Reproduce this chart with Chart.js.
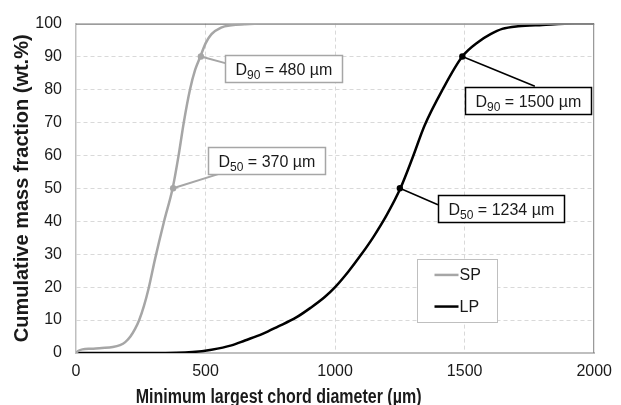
<!DOCTYPE html>
<html><head><meta charset="utf-8">
<script src="https://cdn.jsdelivr.net/npm/chart.js@4/dist/chart.umd.min.js"></script>
<style>html,body{margin:0;padding:0;background:#fff}canvas{display:block}</style>
</head><body>
<canvas id="c" width="621" height="405"></canvas>
<script>
// ---- data ----
const seriesNames = ['SP', 'LP'];
const spX = [0, 10, 25, 60, 100, 142, 170, 190, 210, 228, 244, 262, 280, 305, 340, 373, 396, 416, 440, 460, 480, 500, 523, 560, 600, 650, 714, 2000];
const spY = [0, 0.7, 1.1, 1.3, 1.5, 1.8, 2.4, 3.3, 5, 7.3, 10, 14.2, 19.5, 28.5, 40, 50, 60, 70, 80, 86, 90, 94, 96.8, 98.8, 99.5, 99.8, 100, 100];
const lpX = [0, 300, 450, 523, 600, 652, 720, 779, 850, 905, 960, 1000, 1050, 1100, 1150, 1200, 1252, 1300, 1345, 1415, 1491, 1554, 1600, 1645, 1706, 1800, 1924, 2000];
const lpY = [0, 0, 0.3, 1, 2.3, 3.8, 5.8, 8, 10.8, 13.7, 17, 20, 24.6, 29.8, 35.5, 42, 50, 59.5, 69, 80, 90, 94.5, 96.8, 98.4, 99.2, 99.6, 100, 100];
const xTicks = [0, 500, 1000, 1500, 2000];
const yTicks = [0, 10, 20, 30, 40, 50, 60, 70, 80, 90, 100];
// characteristic diameters: marker position on the curve and label text
const markerSeries = [0, 0, 1, 1];
const markerX = [375, 482, 1250, 1491];
const markerY = [50, 90, 50, 90];
const labelSub = ['50', '90', '50', '90'];
const labelValue = ['370', '480', '1234', '1500'];
const xTitle = 'Minimum largest chord diameter (\u00b5m)';
const yTitle = 'Cumulative mass fraction (wt.%)';

const FONT = '"Liberation Sans", Arial, sans-serif';
const TXT = '#1a1a1a';

// callout layout (data units): box left edge / box centre, connector end
const calloutLayout = [
  {boxX: 508, boxY: 58.5, endX: 561, endY: 54.6},
  {boxX: 576, boxY: 86.25, endX: 576, endY: 88},
  {boxX: 1397, boxY: 43.8, endX: 1397, endY: 45},
  {boxX: 1500, boxY: 76.8, endX: 1771, endY: 81}
];

const extrasPlugin = {
  id: 'extras',
  beforeDatasetsDraw(chart) {
    const {ctx, chartArea: a} = chart;
    ctx.save();
    ctx.lineWidth = 1;
    ctx.strokeStyle = '#595959';
    ctx.beginPath(); ctx.moveTo(a.left, a.top + 0.5); ctx.lineTo(a.right, a.top + 0.5); ctx.stroke();
    ctx.strokeStyle = '#808080';
    ctx.beginPath(); ctx.moveTo(a.right - 0.5, a.top); ctx.lineTo(a.right - 0.5, a.bottom); ctx.stroke();
    ctx.restore();
  },
  afterDatasetsDraw(chart, args, opts) {
    const {ctx, scales: {x, y}} = chart;
    ctx.save();
    markerX.forEach((mx, i) => {
      const ds = chart.data.datasets[markerSeries[i]];
      const color = ds.borderColor;
      const L = opts.layout[i];
      const px = x.getPixelForValue(mx), py = y.getPixelForValue(markerY[i]);
      const ex = x.getPixelForValue(L.endX), ey = y.getPixelForValue(L.endY);
      ctx.strokeStyle = color;
      ctx.lineWidth = markerSeries[i] === 0 ? 2 : 1.5;
      ctx.beginPath(); ctx.moveTo(px, py); ctx.lineTo(ex, ey); ctx.stroke();
      ctx.fillStyle = color;
      ctx.beginPath(); ctx.arc(px, py, 3.2, 0, Math.PI * 2); ctx.fill();
      const mainF = '16px ' + FONT, subF = '12px ' + FONT;
      const rest = ' = ' + labelValue[i] + ' \u00b5m';
      ctx.font = mainF; const wD = ctx.measureText('D').width; const wR = ctx.measureText(rest).width;
      ctx.font = subF; const wS = ctx.measureText(labelSub[i]).width;
      const pad = 10, h = 27;
      const w = Math.round(wD + wS + wR + 2 * pad);
      const bx = Math.round(x.getPixelForValue(L.boxX)) + 0.5;
      const by = Math.round(y.getPixelForValue(L.boxY) - h / 2) + 0.5;
      ctx.fillStyle = '#ffffff';
      ctx.fillRect(bx, by, w, h);
      ctx.lineWidth = 1.5;
      ctx.strokeStyle = markerSeries[i] === 0 ? '#a6a6a6' : '#000000';
      ctx.strokeRect(bx, by, w, h);
      const base = by + h / 2 + 6;
      ctx.fillStyle = TXT;
      ctx.textBaseline = 'alphabetic'; ctx.textAlign = 'left';
      ctx.font = mainF; ctx.fillText('D', bx + pad, base);
      ctx.font = subF; ctx.fillText(labelSub[i], bx + pad + wD, base + 4.3);
      ctx.font = mainF; ctx.fillText(rest, bx + pad + wD + wS, base);
    });
    // legend box inside plot
    const lg = opts.legend;
    const l = Math.round(x.getPixelForValue(lg.x0)) + 0.5, r = Math.round(x.getPixelForValue(lg.x1)) + 0.5;
    const t = Math.round(y.getPixelForValue(lg.y0)) + 0.5, b = Math.round(y.getPixelForValue(lg.y1)) + 0.5;
    ctx.fillStyle = '#ffffff'; ctx.fillRect(l, t, r - l, b - t);
    ctx.strokeStyle = '#bfbfbf'; ctx.lineWidth = 1; ctx.strokeRect(l, t, r - l, b - t);
    chart.data.datasets.forEach((ds, i) => {
      const ry = y.getPixelForValue(lg.rows[i]);
      ctx.strokeStyle = ds.borderColor; ctx.lineWidth = ds.borderWidth;
      ctx.beginPath(); ctx.moveTo(l + 17, ry); ctx.lineTo(l + 41, ry); ctx.stroke();
      ctx.fillStyle = TXT; ctx.font = '16px ' + FONT; ctx.textBaseline = 'middle'; ctx.textAlign = 'left';
      ctx.fillText(ds.label, l + 42, ry + 1);
    });
    // x-axis title (condensed bold, as in the reference)
    const xt = opts.xTitle;
    const cx = x.getPixelForValue(xt.center);
    ctx.save();
    ctx.translate(cx, chart.height - xt.baselineFromBottom);
    ctx.scale(xt.squeeze, 1);
    ctx.font = 'bold 20px ' + FONT; ctx.fillStyle = TXT; ctx.textAlign = 'center'; ctx.textBaseline = 'alphabetic';
    ctx.fillText(xTitle, 0, 0);
    ctx.restore();
    ctx.restore();
  }
};

const edgeTransparent = (vals) => (c) => (c.tick && (c.tick.value === vals[0] || c.tick.value === vals[vals.length - 1])) ? 'rgba(0,0,0,0)' : '#d9d9d9';

new Chart(document.getElementById('c').getContext('2d'), {
  type: 'line',
  data: {
    datasets: [
      {label: seriesNames[0], data: spX.map((v, i) => ({x: v, y: spY[i]})), borderColor: '#a6a6a6', borderWidth: 2.5, pointRadius: 0, cubicInterpolationMode: 'monotone', fill: false},
      {label: seriesNames[1], data: lpX.map((v, i) => ({x: v, y: lpY[i]})), borderColor: '#000000', borderWidth: 2.5, pointRadius: 0, cubicInterpolationMode: 'monotone', fill: false}
    ]
  },
  options: {
    responsive: false, animation: false, devicePixelRatio: 1,
    layout: {padding: {top: 20, right: 22, left: 0, bottom: 0}},
    plugins: {
      legend: {display: false}, tooltip: {enabled: false},
      extras: {
        layout: [calloutLayout[0], calloutLayout[1], calloutLayout[2], calloutLayout[3]],
        legend: {x0: 1317, x1: 1626, y0: 28.5, y1: 9.3, rows: [23.7, 14.1]},
        xTitle: {center: 782, baselineFromBottom: 2, squeeze: 0.8}
      }
    },
    scales: {
      x: {
        type: 'linear', min: 0, max: 2000,
        afterBuildTicks: s => { s.ticks = xTicks.map(v => ({value: v})); },
        afterFit: s => { s.height = 52; },
        grid: {color: edgeTransparent(xTicks), drawTicks: false, lineWidth: 1},
        border: {color: '#bfbfbf', width: 2, dash: [4, 3]},
        ticks: {padding: 9, color: TXT, font: {family: FONT, size: 16}, maxRotation: 0, callback: v => String(v)},
        title: {display: false}
      },
      y: {
        type: 'linear', min: 0, max: 100,
        afterBuildTicks: s => { s.ticks = yTicks.map(v => ({value: v})); },
        afterFit: s => { s.width = 76; },
        grid: {color: edgeTransparent(yTicks), drawTicks: false, lineWidth: 1},
        border: {color: '#bfbfbf', width: 1.5, dash: [4, 3]},
        ticks: {padding: 14, color: TXT, font: {family: FONT, size: 16}, callback: v => String(v)},
        title: {display: true, text: yTitle, color: TXT, font: {family: FONT, size: 20, weight: 'bold', lineHeight: 1.2}, padding: {top: 10.5, bottom: 0}}
      }
    }
  },
  plugins: [extrasPlugin]
});
</script>
</body></html>
